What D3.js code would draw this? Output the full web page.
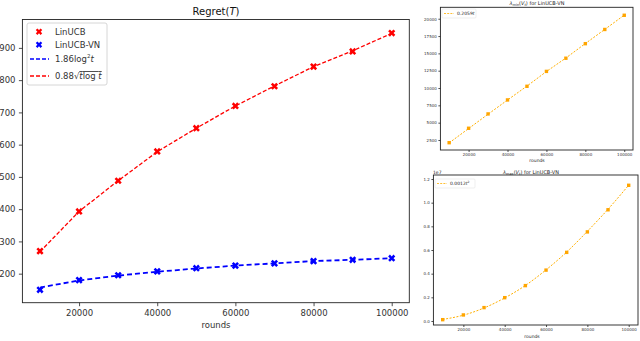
<!DOCTYPE html>
<html>
<head>
<meta charset="utf-8">
<script src="https://cdn.jsdelivr.net/npm/d3@7"></script>
<style>
  html, body { margin: 0; padding: 0; background: #fff; }
  svg { display: block; font-family: "DejaVu Sans", sans-serif; }
</style>
</head>
<body>
<svg id="chart" width="640" height="341"></svg>
<script>
// values
const rounds = [10000, 20000, 30000, 40000, 50000, 60000, 70000, 80000, 90000, 100000];
const regretLinUCB = [270, 393, 488, 579, 651, 720, 781, 842, 889, 946];
const regretLinUCBVN = [150, 180, 195, 207, 217, 225, 232, 239, 243, 248];
const fitLog2 = [157, 179, 194, 206, 216, 225, 232, 239, 243, 248];
const fitSqrt = [268, 393, 488, 578, 651, 720, 782, 842, 891, 945];
const lambdaMin = [2110, 4190, 6260, 8280, 10250, 12400, 14300, 16400, 18450, 20500];
const fitLinear = [2080, 4150, 6220, 8270, 10280, 12380, 14330, 16420, 18460, 20520];
const lambdaMax = [0.011, 0.051, 0.113, 0.197, 0.299, 0.43, 0.58, 0.753, 0.94, 1.147];
const fitQuad = [0.013, 0.049, 0.11, 0.195, 0.30, 0.432, 0.583, 0.758, 0.945, 1.148];

const xTicks = [20000, 40000, 60000, 80000, 100000];
const regretTicks = [200, 300, 400, 500, 600, 700, 800, 900];
const minTicks = [2500, 5000, 7500, 10000, 12500, 15000, 17500, 20000];
const maxTicks = [0, 0.2, 0.4, 0.6, 0.8, 1.0, 1.2];

const svg = d3.select("#chart");
const xDomain = [5500, 104500];

function axes(box, yDomain, yTicks, yFmt, fs, tickLen) {
  const x = d3.scaleLinear().domain(xDomain).range([box.left, box.right]);
  const y = d3.scaleLinear().domain(yDomain).range([box.bottom, box.top]);
  const g = svg.append("g");
  const ax = g.append("g")
    .attr("transform", `translate(0,${box.bottom})`)
    .call(d3.axisBottom(x).tickValues(xTicks).tickFormat(d3.format("d")).tickSize(tickLen).tickPadding(fs * 0.4));
  const ay = g.append("g")
    .attr("transform", `translate(${box.left},0)`)
    .call(d3.axisLeft(y).tickValues(yTicks).tickFormat(yFmt).tickSize(tickLen).tickPadding(fs * 0.4));
  [ax, ay].forEach(a => {
    a.select(".domain").remove();
    a.selectAll("text").attr("font-size", fs).attr("font-family", "DejaVu Sans").attr("fill", "#333");
    a.selectAll("line").attr("stroke", "#222").attr("stroke-width", 0.8);
  });
  g.append("rect")
    .attr("x", box.left).attr("y", box.top)
    .attr("width", box.right - box.left).attr("height", box.bottom - box.top)
    .attr("fill", "none").attr("stroke", "#222").attr("stroke-width", 0.9);
  return { x, y, g };
}

function series(s, vals, color, width, dash, curve) {
  const line = d3.line()
    .x((d, i) => s.x(rounds[i]))
    .y(d => s.y(d))
    .curve(curve || d3.curveLinear);
  s.g.append("path")
    .datum(vals)
    .attr("d", line)
    .attr("fill", "none")
    .attr("stroke", color)
    .attr("stroke-width", width)
    .attr("stroke-dasharray", dash);
}

function markers(s, vals, color, size) {
  s.g.append("g").selectAll("path")
    .data(vals)
    .join("path")
    .attr("d", d3.symbol(d3.symbolCross, size))
    .attr("transform", (d, i) => `translate(${s.x(rounds[i])},${s.y(d)}) rotate(45)`)
    .attr("fill", color);
}

function squares(s, vals, color, size) {
  s.g.append("g").selectAll("rect")
    .data(vals)
    .join("rect")
    .attr("x", (d, i) => s.x(rounds[i]) - size / 2)
    .attr("y", d => s.y(d) - size / 2)
    .attr("width", size).attr("height", size)
    .attr("fill", color);
}

// ---- main regret chart
const main = axes({ left: 22.4, right: 409.3, top: 19.5, bottom: 302.7 },
  [110, 988], regretTicks, d3.format("d"), 8.5, 3.5);

series(main, fitSqrt, "#ff0000", 1.3, "4,2");
series(main, fitLog2, "#0000ff", 1.8, "5,3");
markers(main, regretLinUCB, "#ff0000", 32);
markers(main, regretLinUCBVN, "#0000ff", 32);

const title = svg.append("text")
  .attr("x", 216).attr("y", 15)
  .attr("text-anchor", "middle").attr("font-size", 10).attr("fill", "#111");
title.append("tspan").text("Regret(");
title.append("tspan").attr("font-style", "italic").text("T");
title.append("tspan").text(")");

svg.append("text")
  .attr("x", 216).attr("y", 328)
  .attr("text-anchor", "middle").attr("font-size", 8.5).attr("fill", "#333")
  .text("rounds");

// legend
const lg = svg.append("g");
lg.append("rect")
  .attr("x", 27).attr("y", 23).attr("width", 80).attr("height", 62).attr("rx", 2)
  .attr("fill", "#fff").attr("stroke", "#ccc").attr("stroke-width", 0.8);
const legendRows = [
  { y: 31.7, kind: "marker", color: "#ff0000", label: "LinUCB" },
  { y: 44.7, kind: "marker", color: "#0000ff", label: "LinUCB-VN" },
  { y: 59, kind: "line", color: "#0000ff", label: "log2" },
  { y: 76, kind: "line", color: "#ff0000", label: "sqrt" }
];
legendRows.forEach(r => {
  if (r.kind === "marker") {
    lg.append("path")
      .attr("d", d3.symbol(d3.symbolCross, 26))
      .attr("transform", `translate(39,${r.y}) rotate(45)`)
      .attr("fill", r.color);
  } else {
    lg.append("line")
      .attr("x1", 30).attr("x2", 49).attr("y1", r.y).attr("y2", r.y)
      .attr("stroke", r.color).attr("stroke-width", 1.3).attr("stroke-dasharray", "4,2");
  }
  const t = lg.append("text").attr("x", 55).attr("y", r.y + 3).attr("font-size", 8.5).attr("fill", "#333");
  if (r.label === "log2") {
    t.append("tspan").text("1.86log");
    t.append("tspan").attr("font-size", 5.5).attr("dy", -4).text("2");
    t.append("tspan").attr("font-style", "italic").attr("dy", 4).text("t");
  } else if (r.label === "sqrt") {
    t.append("tspan").text("0.88\u221A");
    t.append("tspan").attr("font-style", "italic").attr("text-decoration", "overline").text("t");
    t.append("tspan").attr("text-decoration", "overline").text("log ");
    t.append("tspan").attr("font-style", "italic").attr("text-decoration", "overline").text("t");
  } else {
    t.text(r.label);
  }
});

// ---- small charts
function smallTitle(xc, yb, which) {
  const t = svg.append("text")
    .attr("x", xc).attr("y", yb)
    .attr("text-anchor", "middle").attr("font-size", 5).attr("fill", "#222");
  t.append("tspan").attr("font-style", "italic").text("\u03BB");
  t.append("tspan").attr("font-size", 3.5).attr("dy", 1).text(which);
  t.append("tspan").attr("dy", -1).text("(");
  t.append("tspan").attr("font-style", "italic").text("V");
  t.append("tspan").attr("font-size", 3.5).attr("font-style", "italic").attr("dy", 1).text("t");
  t.append("tspan").attr("dy", -1).text(") for LinUCB-VN");
}

function smallLegend(x, y, w, build) {
  const g = svg.append("g");
  g.append("rect").attr("x", x).attr("y", y).attr("width", w).attr("height", 9).attr("rx", 1)
    .attr("fill", "#fff").attr("stroke", "#ddd").attr("stroke-width", 0.5);
  g.append("line").attr("x1", x + 2).attr("x2", x + 12).attr("y1", y + 4.5).attr("y2", y + 4.5)
    .attr("stroke", "#ffb000").attr("stroke-opacity", 0.8).attr("stroke-width", 1).attr("stroke-dasharray", "2,1.2");
  const t = g.append("text").attr("x", x + 15).attr("y", y + 6.2).attr("font-size", 4.5).attr("fill", "#222");
  build(t);
}

const minPanel = axes({ left: 440.4, right: 633, top: 7.3, bottom: 150 },
  [1055, 21650], minTicks, d3.format("d"), 4, 2);
series(minPanel, fitLinear, "#ffb000", 1, "2,1.5");
squares(minPanel, lambdaMin, "#ffa500", 3.4);
smallTitle(537, 5, "min");
svg.append("text").attr("x", 537).attr("y", 162).attr("text-anchor", "middle")
  .attr("font-size", 4.5).attr("fill", "#222").text("rounds");
smallLegend(442, 9, 34, t => {
  t.append("tspan").text("0.2059");
  t.append("tspan").attr("font-style", "italic").text("t");
});

const maxPanel = axes({ left: 433.4, right: 638, top: 175, bottom: 325 },
  [-0.034, 1.234], maxTicks, d3.format(".1f"), 4, 2);
series(maxPanel, fitQuad, "#ffb000", 1, "2,1.5", d3.curveMonotoneX);
squares(maxPanel, lambdaMax, "#ffa500", 3.4);
smallTitle(531, 173.5, "max");
svg.append("text").attr("x", 433).attr("y", 173.5)
  .attr("font-size", 4.5).attr("fill", "#222").text("1e7");
svg.append("text").attr("x", 532).attr("y", 338).attr("text-anchor", "middle")
  .attr("font-size", 4.5).attr("fill", "#222").text("rounds");
smallLegend(435, 179, 40, t => {
  t.append("tspan").text("0.0012");
  t.append("tspan").attr("font-style", "italic").text("t");
  t.append("tspan").attr("font-size", 3).attr("dy", -2).text("2");
});
</script>
</body>
</html>
